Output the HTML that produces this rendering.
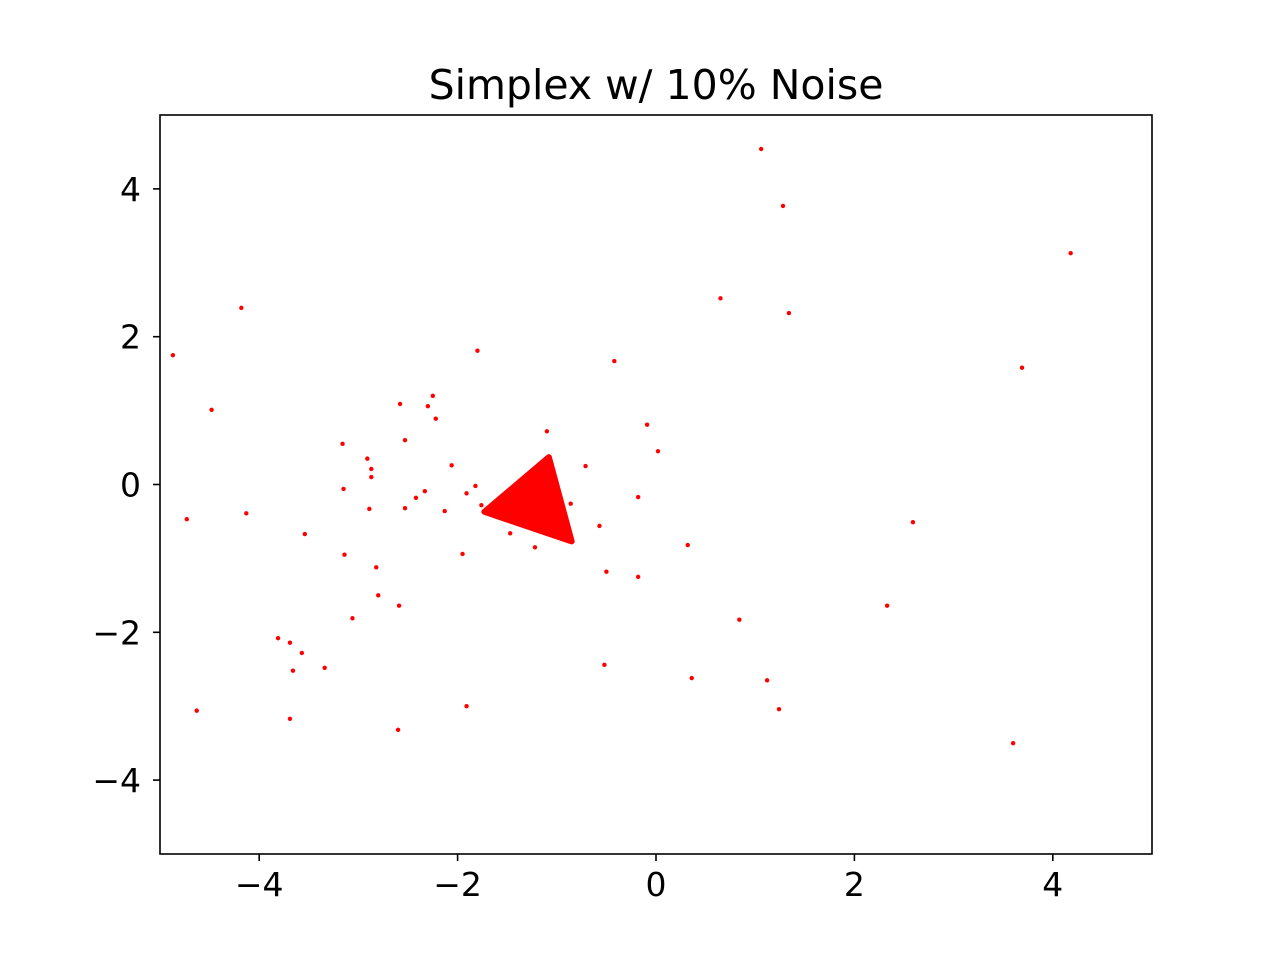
<!DOCTYPE html>
<html><head><meta charset="utf-8">
<style>
body{margin:0;background:#fff;}
svg{display:block;font-family:"DejaVu Sans","Liberation Sans",sans-serif;}
</style></head>
<body>
<svg id="chart" width="1280" height="960" xmlns="http://www.w3.org/2000/svg">
<rect width="1280" height="960" fill="#fff"/>
<text x="656" y="99" font-size="41" text-anchor="middle">Simplex w/ 10% Noise</text>
<g id="marks"></g>
<g id="axes"></g>
</svg>
<script>
const xTicks=[-4,-2,0,2,4];
const yTicks=[-4,-2,0,2,4];
const triangleX=[-1.73,-1.08,-0.85];
const triangleY=[-0.37,0.37,-0.77];
const noiseX=[1.06,1.28,4.18,0.65,1.34,-4.18,-4.87,-1.80,-0.42,3.69,-4.48,-2.58,-2.25,-2.30,-2.22,-2.53,-1.10,-0.09,0.02,-3.16,-2.91,-2.87,-2.87,-2.06,-0.71,-3.15,-2.33,-2.42,-1.91,-1.82,-2.89,-2.53,-2.13,-1.76,-4.73,-4.13,-3.54,-1.47,-1.22,-0.86,-0.18,-0.57,2.59,0.32,-3.14,-1.95,-2.82,-0.50,-0.18,-2.80,-2.59,2.33,-3.06,0.84,-3.81,-3.69,-3.57,-3.66,-3.34,-0.52,0.36,1.12,-4.63,-1.91,1.24,-3.69,-2.60,3.60];
const noiseY=[4.54,3.77,3.13,2.52,2.32,2.39,1.75,1.81,1.67,1.58,1.01,1.09,1.20,1.06,0.89,0.60,0.72,0.81,0.45,0.55,0.35,0.21,0.10,0.26,0.25,-0.06,-0.09,-0.18,-0.12,-0.02,-0.33,-0.32,-0.36,-0.28,-0.47,-0.39,-0.67,-0.66,-0.85,-0.26,-0.17,-0.56,-0.51,-0.82,-0.95,-0.94,-1.12,-1.18,-1.25,-1.50,-1.64,-1.64,-1.81,-1.83,-2.08,-2.14,-2.28,-2.52,-2.48,-2.44,-2.62,-2.65,-3.06,-3.00,-3.04,-3.17,-3.32,-3.50];
const L=160,R=1152,T=115,B=854;
const sx=v=>L+(v+5)/10*(R-L);
const sy=v=>B-(v+5)/10*(B-T);
const NS="http://www.w3.org/2000/svg";
const marks=document.getElementById('marks');
const axes=document.getElementById('axes');
const tri=document.createElementNS(NS,'polygon');


tri.setAttribute('points',triangleX.map((x,i)=>sx(x)+','+sy(triangleY[i])).join(' '));
tri.setAttribute('fill','red');tri.setAttribute('stroke','red');tri.setAttribute('stroke-width','6');tri.setAttribute('stroke-linejoin','round');
marks.appendChild(tri);
noiseX.forEach((x,i)=>{
 const c=document.createElementNS(NS,'circle');
 
 
 c.setAttribute('cx',sx(x));c.setAttribute('cy',sy(noiseY[i]));c.setAttribute('r','2.2');c.setAttribute('fill','red');
 marks.appendChild(c);
});
const frame=document.createElementNS(NS,'rect');


frame.setAttribute('x',L);frame.setAttribute('y',T);frame.setAttribute('width',R-L);frame.setAttribute('height',B-T);
frame.setAttribute('fill','none');frame.setAttribute('stroke','#000');frame.setAttribute('stroke-width','1.6');
axes.appendChild(frame);
xTicks.forEach(t=>{
 const l=document.createElementNS(NS,'line');
 
 
 l.setAttribute('x1',sx(t));l.setAttribute('x2',sx(t));l.setAttribute('y1',B);l.setAttribute('y2',B+7);l.setAttribute('stroke','#000');l.setAttribute('stroke-width','1.6');
 axes.appendChild(l);
 const tx=document.createElementNS(NS,'text');
 
 
 tx.setAttribute('x',sx(t));tx.setAttribute('y',B+42);tx.setAttribute('font-size','33');tx.setAttribute('text-anchor','middle');
 tx.textContent=(t<0?'\u2212':'')+Math.abs(t);
 axes.appendChild(tx);
});
yTicks.forEach(t=>{
 const l=document.createElementNS(NS,'line');
 
 
 l.setAttribute('x1',L-7);l.setAttribute('x2',L);l.setAttribute('y1',sy(t));l.setAttribute('y2',sy(t));l.setAttribute('stroke','#000');l.setAttribute('stroke-width','1.6');
 axes.appendChild(l);
 const tx=document.createElementNS(NS,'text');
 
 
 tx.setAttribute('x',L-19);tx.setAttribute('y',sy(t)+12);tx.setAttribute('font-size','33');tx.setAttribute('text-anchor','end');
 tx.textContent=(t<0?'\u2212':'')+Math.abs(t);
 axes.appendChild(tx);
});
</script>
</body></html>
